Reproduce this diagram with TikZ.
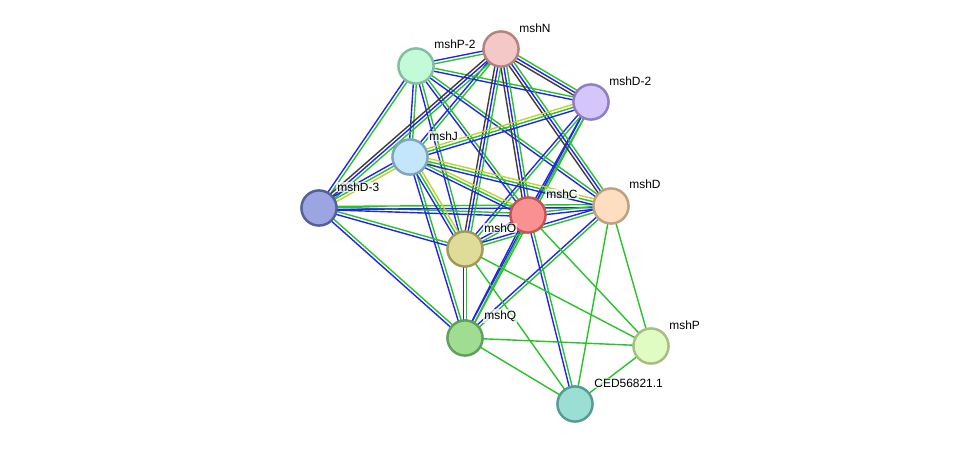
\documentclass[tikz,border=0pt]{standalone}
\usepackage{fontspec}
\setmainfont{Liberation Sans}
\usetikzlibrary{calc}
\pgfdeclarelayer{bg}
\pgfsetlayers{bg,main}
\definecolor{cgreen}{RGB}{40,195,40}
\definecolor{cblue}{RGB}{35,35,240}
\definecolor{cblack}{RGB}{60,60,60}
\definecolor{cyellow}{RGB}{195,210,50}
\tikzset{
  prot/.style={circle,line width=1.4pt,minimum size=20pt,inner sep=0pt},
  lbl/.style={font=\fontsize{6.8}{8}\selectfont,anchor=west,inner sep=0.6pt,
    fill=white,fill opacity=0.7,text opacity=1},
  ln/.style={line width=0.8pt},
  egreen/.style={ln,draw=cgreen},
  eblue/.style={ln,draw=cblue},
  eblack/.style={ln,draw=cblack},
  eyellow/.style={ln,draw=cyellow},
}

\begin{document}
\begin{tikzpicture}[x=0.02cm,y=-0.02cm]
    \useasboundingbox (0,0) rectangle (975,450);
    % ---------- proteins ----------
    \node[prot,fill={rgb,255:red,245;green,200;blue,200},draw={rgb,255:red,180;green,130;blue,130}] (N) at (501,49) {};
    \node[prot,fill={rgb,255:red,195;green,250;blue,215},draw={rgb,255:red,130;green,190;blue,160}] (P2) at (416,66) {};
    \node[prot,fill={rgb,255:red,212;green,197;blue,250},draw={rgb,255:red,145;green,125;blue,195}] (D2) at (591,102) {};
    \node[prot,fill={rgb,255:red,195;green,230;blue,250},draw={rgb,255:red,125;green,165;blue,190}] (J) at (410,157) {};
    \node[prot,fill={rgb,255:red,155;green,165;blue,225},draw={rgb,255:red,85;green,95;blue,160}] (D3) at (319,208) {};
    \node[prot,fill={rgb,255:red,250;green,145;blue,145},draw={rgb,255:red,195;green,85;blue,85}] (C) at (528,215) {};
    \node[prot,fill={rgb,255:red,253;green,222;blue,192},draw={rgb,255:red,190;green,160;blue,130}] (D) at (611,206) {};
    \node[prot,fill={rgb,255:red,222;green,220;blue,152},draw={rgb,255:red,160;green,155;blue,90}] (O) at (465,249) {};
    \node[prot,fill={rgb,255:red,160;green,220;blue,145},draw={rgb,255:red,95;green,160;blue,90}] (Q) at (465,338) {};
    \node[prot,fill={rgb,255:red,225;green,252;blue,195},draw={rgb,255:red,165;green,190;blue,130}] (P) at (651,346) {};
    \node[prot,fill={rgb,255:red,155;green,222;blue,212},draw={rgb,255:red,85;green,155;blue,150}] (CED) at (575,404) {};
    % ---------- names ----------
    \node[lbl] (lN) at ($(N)+(17,-21)$) {mshN};
    \node[lbl] (lP2) at ($(P2)+(17,-22)$) {mshP-2};
    \node[lbl] (lD2) at ($(D2)+(17,-21)$) {mshD-2};
    \node[lbl] (lJ) at ($(J)+(18,-21)$) {mshJ};
    \node[lbl] (lD3) at ($(D3)+(17,-21)$) {mshD-3};
    \node[lbl] (lC) at ($(C)+(17,-21)$) {mshC};
    \node[lbl] (lD) at ($(D)+(17,-22)$) {mshD};
    \node[lbl] (lO) at ($(O)+(18,-21)$) {mshO};
    \node[lbl] (lQ) at ($(Q)+(18,-22)$) {mshQ};
    \node[lbl] (lP) at ($(P)+(17,-21)$) {mshP};
    \node[lbl] (lCED) at ($(CED)+(18,-21)$) {CED56821.1};
    % ---------- links ----------
    \begin{pgfonlayer}{bg}
      % two strands: green + blue
      \foreach \a/\b in {N/P2,N/J,P2/D2,P2/J,P2/D3,P2/C,P2/O,P2/D,
                         D2/C,D2/O,D2/Q,J/Q,D3/C,D3/O,D3/Q,D3/D,
                         C/D,C/O,C/Q,C/CED,D/O,D/Q,O/Q}{
        \draw[egreen] ($(\a.center)!0.85pt!90:(\b.center)$) -- ($(\b.center)!0.85pt!-90:(\a.center)$);
        \draw[eblue] ($(\a.center)!-0.85pt!90:(\b.center)$) -- ($(\b.center)!-0.85pt!-90:(\a.center)$);
      }
      % three strands: black + blue + green
      \foreach \a/\b in {N/D2,N/D3,N/C,N/O,N/D}{
        \draw[eblack] ($(\a.center)!-1.7pt!90:(\b.center)$) -- ($(\b.center)!-1.7pt!-90:(\a.center)$);
        \draw[eblue] (\a.center) -- (\b.center);
        \draw[egreen] ($(\a.center)!1.7pt!90:(\b.center)$) -- ($(\b.center)!1.7pt!-90:(\a.center)$);
      }
      % three strands: yellow + green + blue
      \foreach \a/\b in {J/D2,J/D3,J/C,J/D,J/O}{
        \draw[eyellow] ($(\a.center)!1.7pt!90:(\b.center)$) -- ($(\b.center)!1.7pt!-90:(\a.center)$);
        \draw[egreen] (\a.center) -- (\b.center);
        \draw[eblue] ($(\a.center)!-1.7pt!90:(\b.center)$) -- ($(\b.center)!-1.7pt!-90:(\a.center)$);
      }
      % single green
      \foreach \a/\b in {C/P,D/P,D/CED,O/P,O/CED,Q/P,Q/CED,P/CED}{
        \draw[egreen] (\a.center) -- (\b.center);
      }
    \end{pgfonlayer}
  \end{tikzpicture}
\end{document}
